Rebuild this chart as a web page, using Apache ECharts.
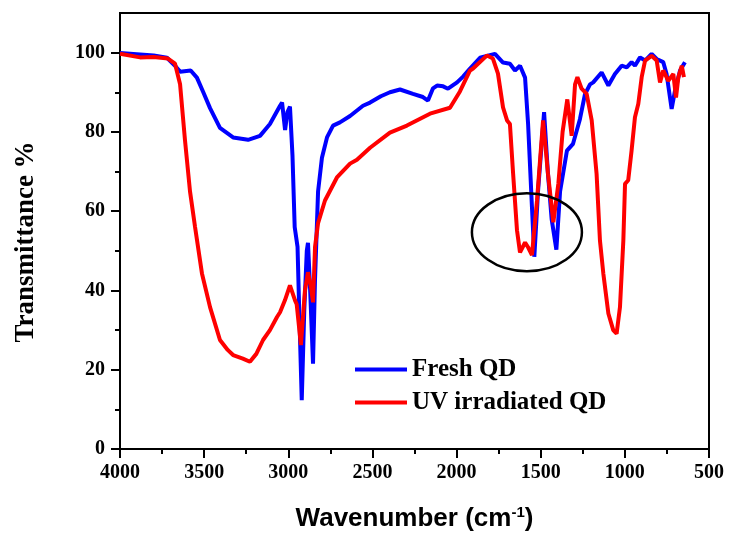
<!DOCTYPE html>
<html lang="en">
<head>
    <meta charset="utf-8" />
    <title>FTIR</title>
    <script src="https://cdn.jsdelivr.net/npm/echarts@6/dist/echarts.min.js"></script>
</head>
<body style="margin:0;background:#fff;">
<div id="main" style="width: 731px;height:539px;"></div>
<script type="text/javascript">
    // wavenumber (cm-1) and transmittance (%)
    var freshWn = [4000, 3900, 3800, 3721, 3673, 3643, 3580, 3543, 3505, 3465, 3406, 3328, 3239, 3168, 3109, 3049,
        3037, 3019, 3005, 2990, 2975, 2962, 2945, 2935, 2920, 2905, 2890, 2883, 2870, 2853, 2841, 2823, 2800,
        2770, 2734, 2693, 2633, 2556, 2514, 2450, 2396, 2336, 2259, 2200, 2170, 2140, 2116, 2080, 2051, 1997,
        1960, 1920, 1861, 1772, 1724, 1683, 1653, 1623, 1593, 1575, 1552, 1538, 1516, 1480, 1457, 1435, 1407,
        1385, 1344, 1308, 1267, 1237, 1207, 1188, 1138, 1098, 1059, 1019, 989, 960, 940, 910, 880, 841, 811,
        772, 752, 722, 702, 672, 643];
    var freshT = [99.9, 99.6, 99.3, 98.7, 96.7, 95.2, 95.5, 93.7, 90, 86, 81, 78.6, 78, 79, 82, 86.6,
        87.4, 80.5, 85, 86.4, 74, 56, 51, 35, 12.3, 35, 50, 52, 40, 21.5, 43, 65, 73.5,
        78.6, 81.6, 82.4, 84, 86.6, 87.4, 89, 90, 90.7, 89.6, 88.8, 87.9, 91, 91.7, 91.5, 90.9, 92.5,
        94, 96, 98.7, 99.7, 97.5, 97.2, 95.5, 96.7, 93.7, 82, 61, 48.5, 65, 85, 69.5, 58, 50.3,
        65, 75.3, 77, 83.2, 89.5, 92, 92.5, 95, 91.7, 94.6, 96.7, 96.3, 97.6, 96.7, 98.8, 98, 99.7, 98.4,
        97.6, 94.6, 85.8, 90.4, 95.5, 97.6];

    var uvWn = [4000, 3881, 3800, 3715, 3673, 3643, 3614, 3584, 3554, 3513, 3465, 3406, 3360, 3328, 3270, 3228,
        3190, 3150, 3109, 3067, 3049, 3020, 2990, 2960, 2950, 2925, 2901, 2883, 2865, 2853, 2841, 2823, 2782,
        2711, 2633, 2592, 2514, 2396, 2295, 2158, 2039, 1980, 1920, 1902, 1819, 1784, 1754, 1724, 1700, 1683,
        1664, 1641, 1623, 1593, 1575, 1552, 1522, 1486, 1457, 1425, 1395, 1370, 1342, 1330, 1316, 1296, 1282,
        1257, 1227, 1197, 1168, 1148, 1128, 1098, 1069, 1049, 1029, 1009, 999, 980, 960, 940, 920, 900, 880,
        841, 811, 791, 772, 742, 712, 696, 682, 662, 649];
    var uvT = [99.7, 98.8, 98.9, 98.5, 97.2, 92, 78, 65, 56, 44.3, 35.8, 27.5, 25, 23.7, 22.8, 22,
        24, 27.5, 30, 33.3, 34.5, 37.5, 41.3, 37.5, 36.5, 26.2, 40, 44.6, 40.8, 37, 51, 57, 62.7,
        68.5, 72, 73, 76, 79.8, 81.6, 84.6, 86.1, 90.2, 95.5, 96, 99.3, 98.5, 94.7, 86.2, 82.9, 82,
        69.5, 55.2, 49.6, 52.1, 50.9, 48.9, 62.7, 82.9, 69.5, 57.2, 67, 80, 88.2, 84, 79, 92, 93.8,
        90.9, 89.6, 82.9, 69.4, 52.6, 44.3, 34.2, 30, 29.1, 35.8, 52.6, 66.9, 67.8, 75.3, 83.7, 87.1, 93.8, 98,
        99.2, 98, 92.5, 95.5, 92.9, 94.6, 88.7, 93.8, 96.7, 93.8];

    var seriesNames = ['Fresh QD', 'UV irradiated QD'];
    var seriesColors = ['#0000ff', '#ff0000'];
    var xTicks = [500, 4000, 500];   // min, max, interval
    var yTicks = [0, 100, 20];
    // highlighted region (circled in the original figure)
    var circleCenter = [1582, 54.7];

    function pairs(xs, ys) {
        var out = [];
        for (var i = 0; i < xs.length; i++) out.push([xs[i], ys[i]]);
        return out;
    }

    var serif = 'Liberation Serif, Times New Roman, serif';
    var axisBlack = { color: '#000', width: 2 };

    var myChart = echarts.init(document.getElementById('main'), null, {renderer: 'canvas'});

    var option = {
        backgroundColor: '#fff',
        animation: false,
        grid: [
            { left: 120, right: 22, top: 13, bottom: 90, show: true, borderColor: '#000', borderWidth: 2 },
            // label grid: same frame but its top is the 100 % line
            { left: 120, right: 22, top: 449 - 436 * 100 / 110, bottom: 90 }
        ],
        xAxis: [
            {
                gridIndex: 0, type: 'value', inverse: true,
                min: xTicks[0], max: xTicks[1], interval: xTicks[2],
                axisLine: { lineStyle: axisBlack },
                axisTick: { inside: false, length: 9, lineStyle: axisBlack },
                minorTick: { show: true, splitNumber: 2, length: 5, lineStyle: axisBlack },
                splitLine: { show: false },
                axisLabel: {
                    margin: 14, color: '#000', fontFamily: serif, fontWeight: 'bold', fontSize: 20,
                    formatter: function (v) { return String(v); }
                },
                name: 'Wavenumber (cm{sup|-1})',
                nameLocation: 'middle', nameGap: 56,
                nameTextStyle: {
                    color: '#000', fontFamily: 'Liberation Sans, Arial, sans-serif', fontWeight: 'bold', fontSize: 26,
                    rich: {
                        sup: { fontSize: 15, fontWeight: 'bold', fontFamily: 'Liberation Sans, Arial, sans-serif',
                               color: '#000', verticalAlign: 'top', padding: [0, 0, 12, 0] }
                    }
                }
            },
            { gridIndex: 1, type: 'value', inverse: true, min: xTicks[0], max: xTicks[1], show: false }
        ],
        yAxis: [
            {
                gridIndex: 0, type: 'value', min: 0, max: 110,
                axisLine: { show: true, lineStyle: axisBlack },
                axisTick: { show: false },
                axisLabel: { show: false },
                splitLine: { show: false },
                name: 'Transmittance %',
                nameLocation: 'middle', nameRotate: 90, nameGap: 80,
                nameTextStyle: { color: '#000', fontFamily: serif, fontWeight: 'bold', fontSize: 27, padding: [0, 22, 0, 0] }
            },
            {
                gridIndex: 1, type: 'value', min: yTicks[0], max: yTicks[1], interval: yTicks[2],
                axisLine: { show: false },
                axisTick: { inside: false, length: 9, lineStyle: axisBlack },
                minorTick: { show: true, splitNumber: 2, length: 5, lineStyle: axisBlack },
                splitLine: { show: false },
                axisLabel: { margin: 15, color: '#000', fontFamily: serif, fontWeight: 'bold', fontSize: 20 }
            }
        ],
        legend: {
            data: seriesNames,
            orient: 'vertical',
            left: 355, top: 357, padding: 0,
            icon: 'rect',
            itemWidth: 52, itemHeight: 4, itemGap: 8,
            textStyle: { color: '#000', fontFamily: serif, fontWeight: 'bold', fontSize: 25, lineHeight: 25 }
        },
        series: [
            {
                name: seriesNames[0], type: 'line', xAxisIndex: 0, yAxisIndex: 0,
                symbol: 'none', smooth: false,
                lineStyle: { color: seriesColors[0], width: 4 },
                itemStyle: { color: seriesColors[0] },
                data: pairs(freshWn, freshT)
            },
            {
                name: seriesNames[1], type: 'line', xAxisIndex: 0, yAxisIndex: 0,
                symbol: 'none', smooth: false,
                lineStyle: { color: seriesColors[1], width: 4 },
                itemStyle: { color: seriesColors[1] },
                data: pairs(uvWn, uvT)
            }
        ]
    };
    myChart.setOption(option);

    // ellipse around the 1550 / 1410 bands
    var c = myChart.convertToPixel({ gridIndex: 0 }, circleCenter);
    myChart.setOption({
        graphic: [{
            type: 'ellipse', z: 100,
            shape: { cx: c[0], cy: c[1], rx: 55, ry: 39 },
            style: { fill: 'none', stroke: '#000', lineWidth: 2.5 }
        }]
    });
</script>
</body>
</html>
